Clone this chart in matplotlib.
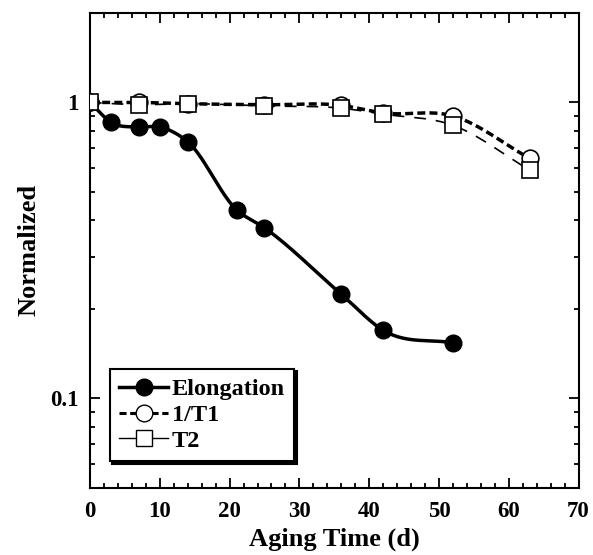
import numpy as np
import matplotlib.pyplot as plt
from matplotlib.ticker import FixedLocator, NullFormatter, MultipleLocator

plt.rcParams['font.family'] = ['Liberation Serif', 'DejaVu Serif']
plt.rcParams['font.weight'] = 'bold'

# data
elong_x = [0, 3, 7, 10, 14, 21, 25, 36, 42, 52]
elong_y = [1.0, 0.857, 0.826, 0.826, 0.736, 0.434, 0.377, 0.225, 0.170, 0.154]

t1_x = [0, 7, 14, 25, 36, 42, 52, 63]
t1_y = [1.0, 1.0, 0.99, 0.982, 0.977, 0.921, 0.90, 0.647]

t2_x = [0, 7, 14, 25, 36, 42, 52, 63]
t2_y = [1.0, 0.983, 0.99, 0.973, 0.956, 0.913, 0.837, 0.591]


def smooth(x, y, n=400):
    # cubic hermite with Bessel tangents through the points, in log-y space
    x = np.asarray(x, float)
    ly = np.log10(y)
    h = np.diff(x)
    d = np.diff(ly) / h
    m = np.zeros(len(x))
    m[0], m[-1] = d[0], d[-1]
    for i in range(1, len(x) - 1):
        m[i] = (h[i] * d[i - 1] + h[i - 1] * d[i]) / (h[i - 1] + h[i])
    xs = np.linspace(x[0], x[-1], n)
    idx = np.clip(np.searchsorted(x, xs) - 1, 0, len(x) - 2)
    t = (xs - x[idx]) / h[idx]
    hh = h[idx]
    ys = ((2 * t ** 3 - 3 * t ** 2 + 1) * ly[idx] + (t ** 3 - 2 * t ** 2 + t) * hh * m[idx]
          + (-2 * t ** 3 + 3 * t ** 2) * ly[idx + 1] + (t ** 3 - t ** 2) * hh * m[idx + 1])
    return xs, 10 ** ys


fig = plt.figure(figsize=(5.93, 5.55), dpi=100)
ax = fig.add_axes([0.1518, 0.1216, 0.8238, 0.8544])
ax.set_yscale('log')

sx, sy = smooth(t2_x, t2_y)
ax.plot(sx, sy, color='black', lw=1.2, dashes=(7, 6))
sx, sy = smooth(t1_x, t1_y)
ax.plot(sx, sy, color='black', lw=2.5, dashes=(2.3, 1.2))
sx, sy = smooth(elong_x, elong_y)
ax.plot(sx, sy, color='black', lw=2.5)

ax.plot(elong_x, elong_y, 'o', color='black', ms=12, zorder=3)
ax.plot(t1_x, t1_y, 'o', mfc='white', mec='black', mew=1.2, ms=12, zorder=4)
ax.plot(t2_x, t2_y, 's', mfc='white', mec='black', mew=1.2, ms=12, zorder=5)

# legend handles
h1, = ax.plot([], [], '-o', color='black', lw=2.5, ms=12)
h2, = ax.plot([], [], 'o', color='black', mfc='white', mew=1.0, ms=12, ls=(0, (2.3, 1.2)), lw=2.2)
h3, = ax.plot([], [], '-s', color='black', mfc='white', mew=1.0, ms=12, lw=1.0)
leg = ax.legend([h1, h2, h3], ['Elongation', '1/T1', 'T2'], loc='lower left',
                bbox_to_anchor=(0.04, 0.055), fontsize=17.5, handlelength=2.0,
                handletextpad=0.15, labelspacing=0.15, borderpad=0.4, borderaxespad=0,
                fancybox=False, shadow={'color': 'black', 'alpha': 1, 'ox': 2, 'oy': -2},
                framealpha=1)
leg.get_frame().set_edgecolor('black')
leg.get_frame().set_linewidth(1.5)

ax.set_xlim(0, 70)
ax.set_ylim(0.05, 2)
ax.xaxis.set_major_locator(MultipleLocator(10))
ax.xaxis.set_minor_locator(MultipleLocator(2))
ax.yaxis.set_major_locator(FixedLocator([0.1, 1]))
ax.yaxis.set_major_formatter(plt.FuncFormatter(lambda v, p: '1' if v == 1 else '0.1'))
ax.yaxis.set_minor_locator(FixedLocator([0.06, 0.07, 0.08, 0.09, 0.2, 0.3, 0.4, 0.5,
                                         0.6, 0.7, 0.8, 0.9, 2]))
ax.yaxis.set_minor_formatter(NullFormatter())
ax.tick_params(which='both', direction='in', top=True, right=True, labelsize=16.5, width=1.3)
ax.tick_params(which='major', length=7, pad=8)
ax.tick_params(axis='x', which='major', pad=9.5)
ax.tick_params(which='minor', length=3.6)
for s in ax.spines.values():
    s.set_linewidth(1.5)

ax.set_xlabel('Aging Time (d)', fontsize=19, fontweight='bold', labelpad=4)
ax.set_ylabel('Normalized', fontsize=19, fontweight='bold', labelpad=7)

plt.savefig('out.png', dpi=100)
